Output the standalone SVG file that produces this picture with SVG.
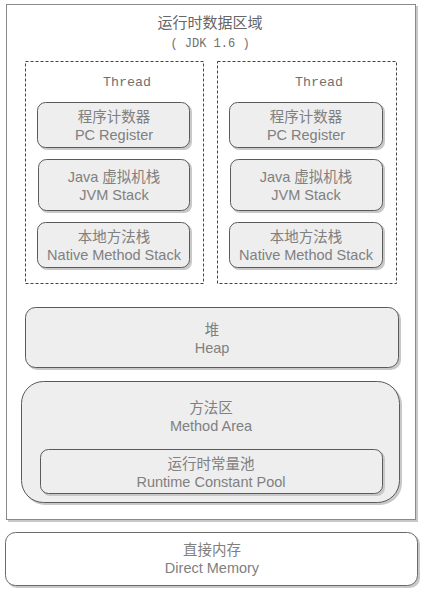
<svg xmlns="http://www.w3.org/2000/svg" width="426" height="594" viewBox="0 0 426 594">
<style>
.t{font-family:"Liberation Sans","Noto Sans CJK SC",sans-serif;font-size:14.5px;fill:#808080;text-anchor:middle}
.m{font-family:"Liberation Mono","DejaVu Sans Mono",monospace;font-size:13.3px;fill:#707070;text-anchor:middle}
.box{fill:#eeeeee;stroke:#5a5a5a;stroke-width:1}
.thr{fill:#ffffff;stroke:#444;stroke-width:1;stroke-dasharray:3,2}
.sh{fill:#c8c8c8}
</style>
<rect width="426" height="594" fill="#ffffff"/>
<g id="runtime-area">
<rect x="8" y="6" width="410" height="516" class="sh"/>
<rect x="6.5" y="4.5" width="409" height="515" fill="#ffffff" stroke="#8a8a8a"/>
<text x="210" y="28" class="t" style="fill:#666;font-size:15px">运行时数据区域</text>
<text x="210" y="47" class="m" style="font-size:12px">( JDK 1.6 )</text>
</g>
<g id="thread1">
<rect x="25.5" y="61.5" width="178" height="222" class="thr"/>
<text x="127" y="86" class="m">Thread</text>
</g>
<g id="pc1">
<rect x="39" y="104" width="153" height="46" rx="8" class="sh"/>
<rect x="37.5" y="102.5" width="152" height="45" rx="8" class="box"/>
<text x="114" y="122" class="t">程序计数器</text><text x="114" y="140" class="t">PC Register</text>
</g>
<g id="jvm1">
<rect x="40" y="161" width="152" height="52" rx="8" class="sh"/>
<rect x="38.5" y="159.5" width="151" height="51" rx="8" class="box"/>
<text x="114" y="182" class="t">Java 虚拟机栈</text><text x="114" y="200" class="t">JVM Stack</text>
</g>
<g id="native1">
<rect x="39" y="224" width="153" height="46" rx="8" class="sh"/>
<rect x="37.5" y="222.5" width="152" height="45" rx="8" class="box"/>
<text x="114" y="242" class="t">本地方法栈</text><text x="114" y="260" class="t">Native Method Stack</text>
</g>
<g id="thread2">
<rect x="217.5" y="61.5" width="179" height="222" class="thr"/>
<text x="319" y="86" class="m">Thread</text>
</g>
<g id="pc2">
<rect x="231" y="104" width="154" height="46" rx="8" class="sh"/>
<rect x="229.5" y="102.5" width="153" height="45" rx="8" class="box"/>
<text x="306" y="122" class="t">程序计数器</text><text x="306" y="140" class="t">PC Register</text>
</g>
<g id="jvm2">
<rect x="232" y="161" width="153" height="52" rx="8" class="sh"/>
<rect x="230.5" y="159.5" width="152" height="51" rx="8" class="box"/>
<text x="306" y="182" class="t">Java 虚拟机栈</text><text x="306" y="200" class="t">JVM Stack</text>
</g>
<g id="native2">
<rect x="231" y="224" width="154" height="46" rx="8" class="sh"/>
<rect x="229.5" y="222.5" width="153" height="45" rx="8" class="box"/>
<text x="306" y="242" class="t">本地方法栈</text><text x="306" y="260" class="t">Native Method Stack</text>
</g>
<g id="heap">
<rect x="27" y="309" width="374" height="61" rx="10" class="sh"/>
<rect x="25.5" y="307.5" width="373" height="60" rx="10" class="box"/>
<text x="212" y="335" class="t">堆</text><text x="212" y="353" class="t">Heap</text>
</g>
<g id="method-area">
<rect x="23" y="383" width="379" height="122" rx="22" class="sh"/>
<rect x="21.5" y="381.5" width="378" height="121" rx="22" class="box"/>
<text x="211" y="413" class="t">方法区</text><text x="211" y="431" class="t">Method Area</text>
</g>
<g id="constant-pool">
<rect x="42" y="451" width="343" height="45" rx="8" class="sh"/>
<rect x="40.5" y="449.5" width="342" height="44" rx="8" class="box"/>
<text x="211" y="469" class="t">运行时常量池</text><text x="211" y="487" class="t">Runtime Constant Pool</text>
</g>
<g id="direct-memory">
<rect x="7" y="534" width="413" height="54" rx="10" class="sh"/>
<rect x="5.5" y="532.5" width="412" height="53" rx="10" fill="#ffffff" stroke="#6a6a6a"/>
<text x="212" y="555" class="t">直接内存</text><text x="212" y="573" class="t">Direct Memory</text>
</g>
<g id="connectors"/>
</svg>
